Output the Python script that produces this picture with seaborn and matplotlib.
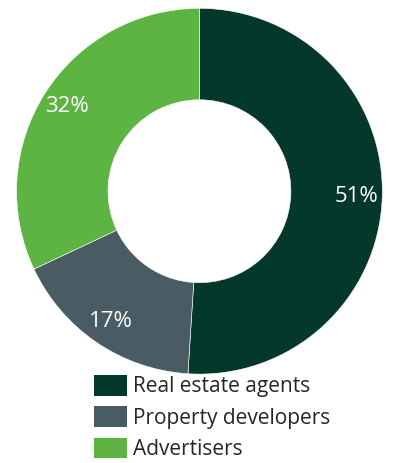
import matplotlib
matplotlib.use("Agg")
import matplotlib.pyplot as plt
from matplotlib.patches import Patch
import seaborn as sns

categories = ["Real estate agents", "Property developers", "Advertisers"]
shares = [51, 17, 32]
colors = ["#03382a", "#4a5c63", "#5db443"]

sns.set_theme(style="white")
plt.rcParams["font.family"] = ["Open Sans", "DejaVu Sans"]

fig = plt.figure(figsize=(3.93, 4.63), dpi=100)
ax = fig.add_axes([0.042, 0.192, 0.931, 0.790])

wedges, texts, autotexts = ax.pie(
    shares,
    colors=colors,
    startangle=90,
    counterclock=False,
    autopct=lambda p: f"{p:.0f}%",
    pctdistance=0.86,
    wedgeprops=dict(width=0.5, edgecolor="white", linewidth=0.4),
    textprops=dict(color="white", fontsize=16),
)
ax.set_xlim(-1, 1)
ax.set_ylim(-1, 1)
ax.set_aspect("equal")
ax.axis("off")

handles = [Patch(facecolor=c, edgecolor="none") for c in colors]
fig.legend(
    handles, categories,
    loc="upper left",
    bbox_to_anchor=(94 / 393, 1 - 375 / 463),
    frameon=False,
    fontsize=15,
    handlelength=1.6,
    handleheight=1.15,
    handletextpad=0.25,
    labelspacing=0.43,
    borderaxespad=0,
    borderpad=0,
)

fig.savefig("out.png", dpi=100, facecolor="white")
